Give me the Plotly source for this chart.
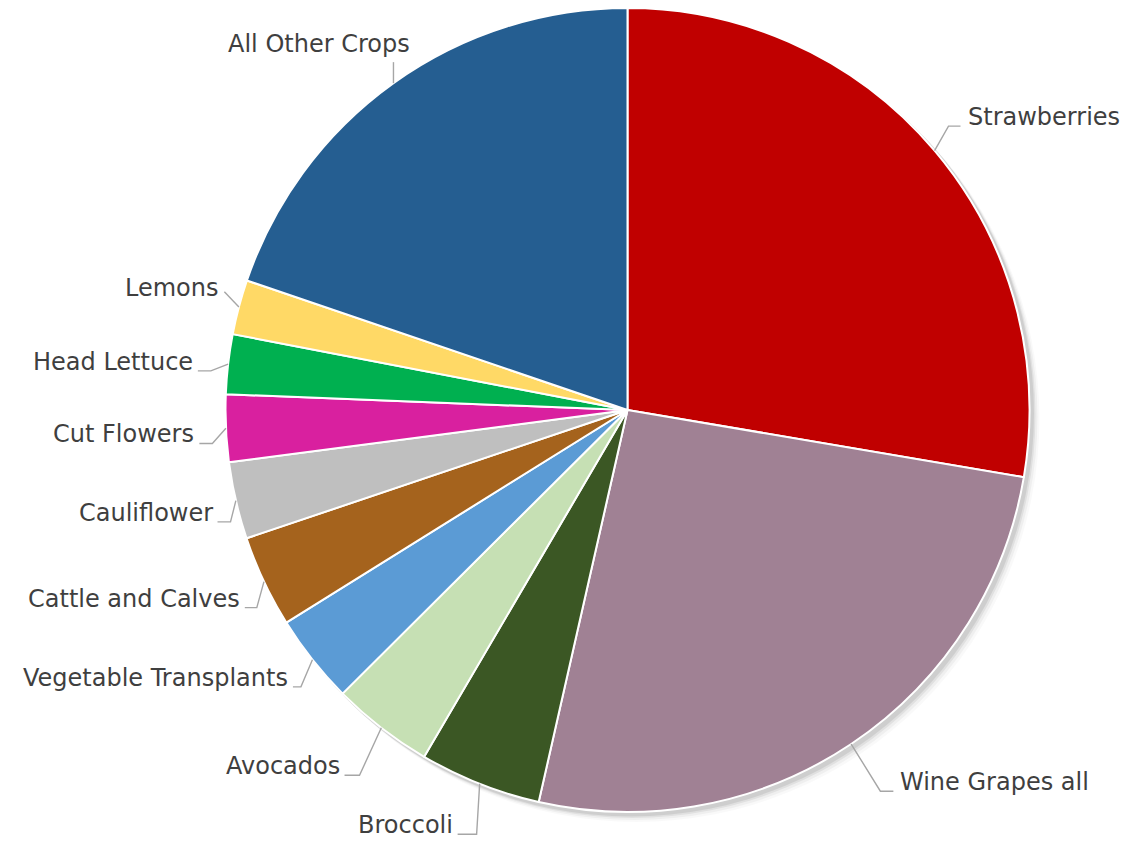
import math
import plotly.graph_objects as go

# ---- data ----
crops = ["Strawberries", "Wine Grapes all", "Broccoli", "Avocados",
         "Vegetable Transplants", "Cattle and Calves", "Cauliflower",
         "Cut Flowers", "Head Lettuce", "Lemons", "All Other Crops"]
shares = [27.7, 25.9, 4.9, 4.1, 3.6, 3.7, 3.1, 2.7, 2.4, 2.2, 19.8]
colors = ["#C00000", "#A08194", "#3B5724", "#C6E0B4", "#5B9BD5", "#A5631D",
          "#BFBFBF", "#D9209F", "#00B050", "#FFD966", "#255E91"]

# ---- layout / style ----
W, H = 1123, 842
cx, cy, R = 627.5, 410, 402
elbow_k = [1.066, 1.138, 1.12, 1.127, 1.065, 1.045, 1.026, 1.036, 1.041, 1.045, 1.05]
elbow_dang = [-1.3, 0.25, -2.0, -1.5, -1.9, -2.8, -2.7, -2.0, -1.2, 1.5, 0.0]
tail_len = [12, 13, 19, 15, 8, 12, 13, 13, 13, 0, 0]
text_col = "#3F3F3F"
line_col = "#A6A6A6"
FONT = "DejaVu Sans"
FS = 24


def fx(px):
    return px / W


def fy(py):
    return 1 - py / H


fig = go.Figure()

# soft shadow (behind the pie)
shapes = []
for off, op in [(8, 0.025), (6, 0.04), (4, 0.06), (2.5, 0.08)]:
    shapes.append(dict(type="circle", xref="paper", yref="paper", layer="below",
                       x0=fx(cx - R + off), x1=fx(cx + R + off + 2),
                       y0=fy(cy + R + off + 2), y1=fy(cy - R + off),
                       fillcolor=f"rgba(0,0,0,{op})", line=dict(width=0)))

fig.add_trace(go.Pie(
    labels=crops, values=shares, sort=False, direction="clockwise", rotation=0,
    marker=dict(colors=colors, line=dict(color="white", width=2)),
    textinfo="none", hoverinfo="label+percent",
    domain=dict(x=[fx(cx - R), fx(cx + R)], y=[fy(cy + R), fy(cy - R)]),
    showlegend=False,
))

annotations = []
total = sum(shares)
cum = 0.0
for i, (name, v) in enumerate(zip(crops, shares)):
    mid = (cum + v / 2) / total * 2 * math.pi
    cum += v
    sx, sy = cx + R * math.sin(mid), cy - R * math.cos(mid)
    right = math.sin(mid) > 0
    if name == "All Other Crops":
        ex, ey = sx, sy - 21
        shapes.append(dict(type="line", xref="paper", yref="paper",
                           x0=fx(sx), y0=fy(sy), x1=fx(ex), y1=fy(ey),
                           line=dict(color=line_col, width=1.4)))
        annotations.append(dict(x=fx(ex - 74), y=fy(ey - 18), xref="paper", yref="paper",
                                text=name, showarrow=False, xanchor="center", yanchor="middle",
                                font=dict(family=FONT, size=FS, color=text_col)))
        continue
    ang = mid + math.radians(elbow_dang[i])
    k = elbow_k[i]
    ex, ey = cx + R * k * math.sin(ang), cy - R * k * math.cos(ang)
    t = tail_len[i] if right else -tail_len[i]
    tx = ex + t
    path = f"M {fx(sx)} {fy(sy)} L {fx(ex)} {fy(ey)} L {fx(tx)} {fy(ey)}"
    shapes.append(dict(type="path", xref="paper", yref="paper", path=path,
                       line=dict(color=line_col, width=1.4)))
    if tail_len[i] == 0:
        ty = ey - 4
        gap = 3
    else:
        ty = ey - 9
        gap = 5 if right else 3
    annotations.append(dict(x=fx(tx + (gap if right else -gap)), y=fy(ty),
                            xref="paper", yref="paper",
                            text=name, showarrow=False,
                            xanchor="left" if right else "right", yanchor="middle",
                            font=dict(family=FONT, size=FS, color=text_col)))

fig.update_layout(
    width=W, height=H, margin=dict(l=0, r=0, t=0, b=0),
    paper_bgcolor="white", plot_bgcolor="white",
    shapes=shapes, annotations=annotations,
)

fig.write_html("out.html")
